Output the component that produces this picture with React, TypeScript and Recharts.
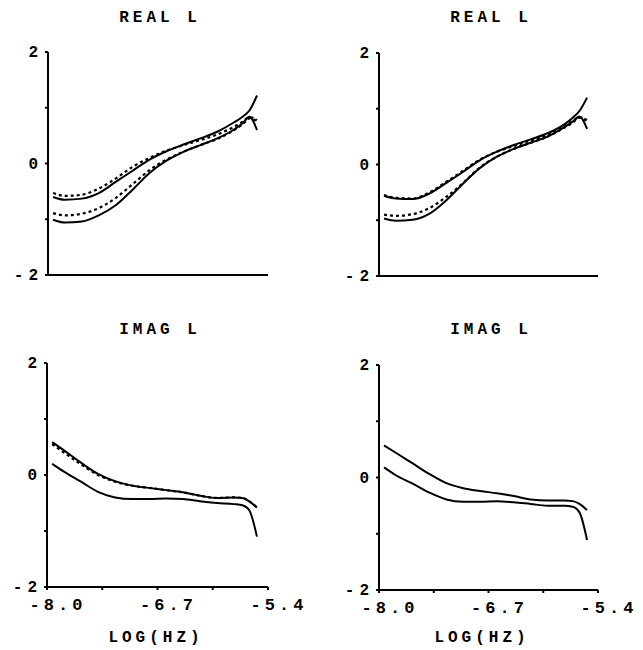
import { LineChart, Line, XAxis, YAxis } from 'recharts';

// log frequency sample points shared by every curve
const LOG_HZ = [-7.94, -7.8, -7.6, -7.4, -7.2, -7.0, -6.8, -6.6, -6.4, -6.2, -6.0, -5.8, -5.7, -5.62, -5.53];

const X_TICKS = [-8.0, -7.35, -6.7, -6.05, -5.4];
const X_LABELS = [-8.0, -6.7, -5.4];
const Y_TICKS = [-2, -1, 0, 1, 2];
const Y_LABELS = [-2, 0, 2];

// real part, left panel
const REAL_L_SOLID_HI = [-0.6, -0.65, -0.63, -0.53, -0.33, -0.13, 0.07, 0.22, 0.34, 0.45, 0.57, 0.74, 0.84, 0.95, 1.22];
const REAL_L_DOT_HI = [-0.53, -0.58, -0.56, -0.45, -0.27, -0.06, 0.1, 0.23, 0.33, 0.42, 0.52, 0.66, 0.75, 0.83, 0.78];
const REAL_L_DOT_LO = [-0.89, -0.93, -0.9, -0.8, -0.62, -0.37, -0.12, 0.07, 0.21, 0.33, 0.44, 0.6, 0.7, 0.81, 0.76];
const REAL_L_SOLID_LO = [-1.01, -1.06, -1.04, -0.93, -0.75, -0.47, -0.17, 0.05, 0.21, 0.33, 0.45, 0.61, 0.72, 0.84, 0.6];

// real part, right panel
const REAL_R_SOLID_HI = [-0.56, -0.61, -0.62, -0.52, -0.33, -0.13, 0.08, 0.23, 0.35, 0.45, 0.56, 0.72, 0.84, 0.96, 1.2];
const REAL_R_DOT_HI = [-0.55, -0.6, -0.61, -0.5, -0.31, -0.11, 0.09, 0.23, 0.33, 0.43, 0.53, 0.69, 0.78, 0.85, 0.8];
const REAL_R_DOT_LO = [-0.9, -0.92, -0.89, -0.78, -0.58, -0.33, -0.05, 0.14, 0.28, 0.39, 0.5, 0.66, 0.75, 0.84, 0.78];
const REAL_R_SOLID_LO = [-0.97, -1.01, -0.99, -0.88, -0.64, -0.34, -0.06, 0.14, 0.28, 0.39, 0.5, 0.67, 0.77, 0.86, 0.64];

// imaginary part, left panel
const IMAG_L_SOLID_HI = [0.59, 0.44, 0.22, 0.02, -0.11, -0.19, -0.23, -0.27, -0.31, -0.37, -0.41, -0.4, -0.41, -0.47, -0.58];
const IMAG_L_DOT_HI = [0.55, 0.4, 0.19, 0.0, -0.12, -0.19, -0.23, -0.27, -0.31, -0.37, -0.41, -0.4, -0.41, -0.47, -0.58];
const IMAG_L_SOLID_LO = [0.2, 0.06, -0.12, -0.3, -0.4, -0.43, -0.43, -0.42, -0.43, -0.47, -0.5, -0.52, -0.54, -0.63, -1.1];

// imaginary part, right panel
const IMAG_R_SOLID_HI = [0.57, 0.44, 0.25, 0.06, -0.1, -0.19, -0.24, -0.28, -0.33, -0.39, -0.41, -0.41, -0.42, -0.47, -0.58];
const IMAG_R_SOLID_LO = [0.18, 0.04, -0.11, -0.27, -0.39, -0.43, -0.43, -0.42, -0.44, -0.47, -0.5, -0.5, -0.52, -0.62, -1.11];

const FONT = '"Liberation Mono", "DejaVu Sans Mono", monospace';

type Series = { values: number[]; dashed: boolean };

function buildRows(series: Series[]) {
  return LOG_HZ.map((x, i) => {
    const row: Record<string, number> = { x };
    series.forEach((s, j) => {
      row[`s${j}`] = s.values[i];
    });
    return row;
  });
}

const XTick = (props: any) => {
  const { x, y, payload } = props;
  if (!X_LABELS.includes(payload.value)) return null;
  return (
    <text x={x + 11} y={y + 18} textAnchor="middle" fontFamily={FONT} fontWeight="bold" fontSize={17} letterSpacing={4} fill="#000">
      {payload.value.toFixed(1)}
    </text>
  );
};

const YTick = (props: any) => {
  const { x, y, payload } = props;
  if (!Y_LABELS.includes(payload.value)) return null;
  return (
    <text x={x} y={y + 5} textAnchor="end" fontFamily={FONT} fontWeight="bold" fontSize={16} letterSpacing={5} fill="#000">
      {payload.value}
    </text>
  );
};

interface PanelProps {
  left: number;
  top: number;
  width: number;
  height: number;
  margin: { top: number; right: number; bottom: number; left: number };
  series: Series[];
  showXLabels: boolean;
}

function Panel({ left, top, width, height, margin, series, showXLabels }: PanelProps) {
  const data = buildRows(series);
  return (
    <div style={{ position: 'absolute', left, top }}>
      <LineChart width={width} height={height} data={data} margin={margin}>
        <XAxis
          dataKey="x"
          type="number"
          domain={[-8.0, -5.4]}
          ticks={X_TICKS}
          height={30}
          stroke="#000"
          strokeWidth={2}
          tickSize={3}
          tick={showXLabels ? <XTick /> : false}
          allowDataOverflow
        />
        <YAxis
          type="number"
          domain={[-2, 2]}
          ticks={Y_TICKS}
          width={40}
          stroke="#000"
          strokeWidth={2}
          tickSize={3}
          tick={<YTick />}
        />
        {series.map((s, j) => (
          <Line
            key={j}
            dataKey={`s${j}`}
            type="monotone"
            stroke="#000"
            strokeWidth={s.dashed ? 2.2 : 2}
            strokeDasharray={s.dashed ? '3 3' : undefined}
            dot={false}
            isAnimationActive={false}
          />
        ))}
      </LineChart>
    </div>
  );
}

const textStyle = {
  position: 'absolute' as const,
  fontFamily: FONT,
  fontWeight: 'bold' as const,
  color: '#000',
  textAlign: 'center' as const,
  width: 140,
  letterSpacing: 4,
  lineHeight: '18px',
  fontSize: 16,
};

export default function App() {
  return (
    <div style={{ position: 'absolute', left: 0, top: 0, width: 643, height: 650, background: '#fff', overflow: 'hidden' }}>
      <div style={{ ...textStyle, left: 90, top: 9 }}>REAL L</div>
      <div style={{ ...textStyle, left: 421, top: 9 }}>REAL L</div>
      <div style={{ ...textStyle, left: 90, top: 321 }}>IMAG L</div>
      <div style={{ ...textStyle, left: 421, top: 321 }}>IMAG L</div>
      <div style={{ ...textStyle, left: 86, top: 629 }}>LOG(HZ)</div>
      <div style={{ ...textStyle, left: 412, top: 629 }}>LOG(HZ)</div>

      <Panel
        left={0}
        top={0}
        width={320}
        height={310}
        margin={{ top: 52, right: 52, bottom: 5, left: 8 }}
        series={[
          { values: REAL_L_SOLID_HI, dashed: false },
          { values: REAL_L_DOT_HI, dashed: true },
          { values: REAL_L_DOT_LO, dashed: true },
          { values: REAL_L_SOLID_LO, dashed: false },
        ]}
        showXLabels={false}
      />
      <Panel
        left={320}
        top={0}
        width={323}
        height={310}
        margin={{ top: 53, right: 45, bottom: 4, left: 19 }}
        series={[
          { values: REAL_R_SOLID_HI, dashed: false },
          { values: REAL_R_DOT_HI, dashed: true },
          { values: REAL_R_DOT_LO, dashed: true },
          { values: REAL_R_SOLID_LO, dashed: false },
        ]}
        showXLabels={false}
      />
      <Panel
        left={0}
        top={310}
        width={320}
        height={340}
        margin={{ top: 53, right: 52, bottom: 33, left: 7 }}
        series={[
          { values: IMAG_L_SOLID_HI, dashed: false },
          { values: IMAG_L_DOT_HI, dashed: true },
          { values: IMAG_L_SOLID_LO, dashed: false },
        ]}
        showXLabels
      />
      <Panel
        left={320}
        top={310}
        width={323}
        height={340}
        margin={{ top: 55, right: 45, bottom: 30, left: 19 }}
        series={[
          { values: IMAG_R_SOLID_HI, dashed: false },
          { values: IMAG_R_SOLID_LO, dashed: false },
        ]}
        showXLabels
      />
    </div>
  );
}
